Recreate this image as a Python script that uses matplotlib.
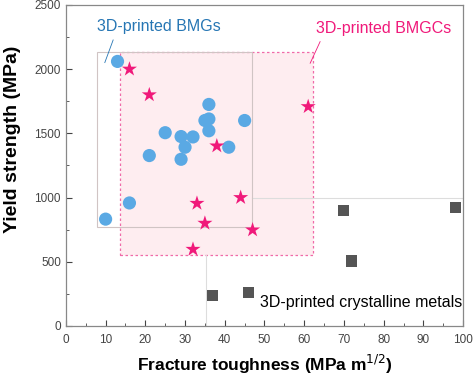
import matplotlib.pyplot as plt
from matplotlib.patches import Rectangle
from matplotlib.ticker import MultipleLocator

plt.rcParams['font.family'] = ['Liberation Sans', 'DejaVu Sans']

# 3D-printed BMGs (circles)
bmg_kic = [13, 36, 45, 35, 36, 36, 25, 29, 32, 30, 41, 21, 29, 16, 10]
bmg_ys = [2060, 1725, 1600, 1600, 1612, 1520, 1505, 1475, 1472, 1392, 1392, 1327, 1298, 958, 832]

# 3D-printed BMGCs (stars)
bmgc_kic = [16, 21, 38, 61, 33, 44, 35, 47, 32]
bmgc_ys = [2000, 1800, 1402, 1708, 955, 1000, 800, 748, 597]

# 3D-printed crystalline metals (squares)
cry_kic = [37, 46, 70, 98, 72]
cry_ys = [234, 262, 896, 921, 506]

blue = '#5aa9e4'
pink = '#f0197a'
gray = '#555555'

fig = plt.figure(figsize=(4.74, 3.78), dpi=100)
ax = fig.add_axes([0.139, 0.1376, 0.838, 0.8494])

# shaded regions
ax.add_patch(Rectangle((13.7, 553), 62.3 - 13.7, 2135 - 553, facecolor='#feedf0',
                       edgecolor='#f06aa8', linestyle=(0, (2, 2)), linewidth=0.9, zorder=1))
ax.add_patch(Rectangle((7.8, 772), 46.8 - 7.8, 2135 - 772, facecolor='none',
                       edgecolor='#d0c4c4', linewidth=0.8, zorder=1.5))
ax.plot([35.2, 35.2], [0, 553], color='#dddddd', lw=0.8, zorder=1)
ax.plot([46.8, 100], [1000, 1000], color='#dddddd', lw=0.8, zorder=1)

ax.scatter(bmg_kic, bmg_ys, s=90, color=blue, edgecolors='none', zorder=3)
ax.scatter(bmgc_kic, bmgc_ys, s=130, marker='*', color=pink, edgecolors='none', zorder=4)
ax.scatter(cry_kic, cry_ys, s=64, marker='s', color=gray, edgecolors='none', zorder=3)

# labels
ax.text(7.8, 2330, '3D-printed BMGs', color='#2676b4', fontsize=11.5, va='center', ha='left')
ax.plot([11.9, 9.8], [2227, 2051], color='#2676b4', lw=0.6)
ax.text(63.0, 2313, '3D-printed BMGCs', color=pink, fontsize=11.5, va='center', ha='left')
ax.plot([64.0, 61.5], [2214, 2046], color=pink, lw=0.6)
ax.text(99.7, 182, '3D-printed crystalline metals', color='black', fontsize=11.5,
        va='center', ha='right')

ax.set_xlim(0, 100)
ax.set_ylim(0, 2500)
ax.xaxis.set_major_locator(MultipleLocator(10))
ax.xaxis.set_minor_locator(MultipleLocator(5))
ax.yaxis.set_major_locator(MultipleLocator(500))
ax.yaxis.set_minor_locator(MultipleLocator(250))
ax.tick_params(which='both', direction='in', colors='#444444', labelsize=8.5)
ax.tick_params(axis='x', pad=6)
ax.tick_params(which='major', length=4)
ax.tick_params(which='minor', length=2)
for s in ax.spines.values():
    s.set_color('#888888')
    s.set_linewidth(0.9)

ax.set_xlabel('Fracture toughness (MPa m$^{1/2}$)', fontsize=12.5, fontweight='bold', labelpad=5)
ax.set_ylabel('Yield strength (MPa)', fontsize=14, fontweight='bold')
ax.yaxis.set_label_coords(-0.112, 0.58)

fig.savefig('out.png', dpi=100)
